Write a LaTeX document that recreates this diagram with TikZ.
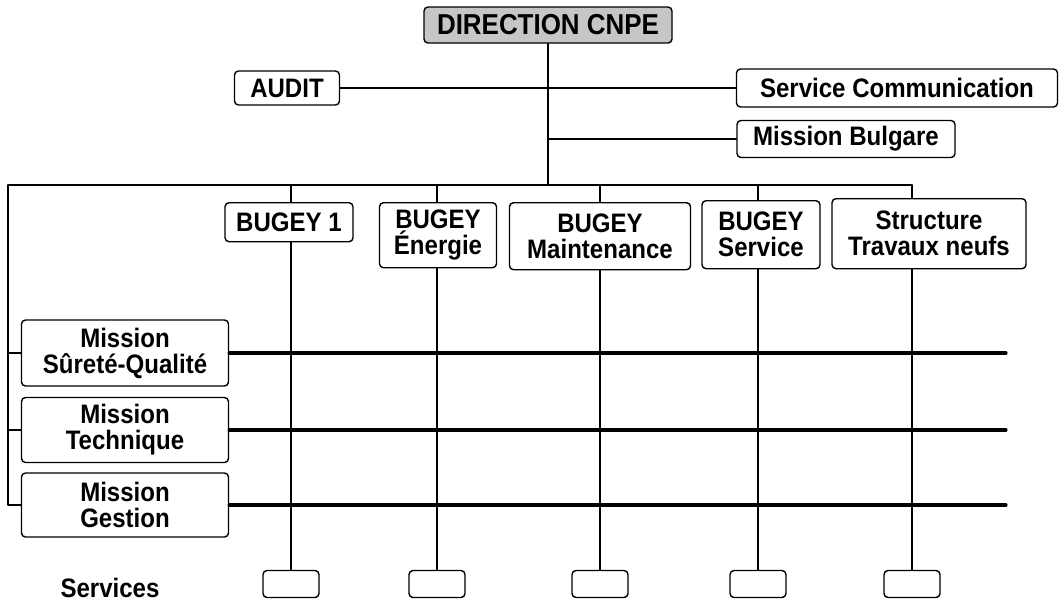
\documentclass[tikz,border=0pt]{standalone}
\usepackage{fontspec}
\setmainfont[FakeStretch=0.9]{Liberation Sans}
\usetikzlibrary{positioning}

\begin{document}
\begin{tikzpicture}[line cap=round,line join=round,x=0.25mm,y=-0.25mm,
		font=\bfseries\fontsize{19}{18.5}\selectfont,
		box/.style={draw,rounded corners=1mm,line width=1pt,fill=white,align=center,inner sep=0pt},
		link/.style={line width=1pt},
		axe/.style={line width=2.2pt}]
		\useasboundingbox (0,0) rectangle (1064,601);
		% direction et rattachements
		\node[box,fill=gray!45,minimum width=62mm,minimum height=9mm,font=\bfseries\fontsize{20.5}{20}\selectfont] (dir) at (548,25) {DIRECTION CNPE};
		\node[box,minimum width=26.25mm,minimum height=8.5mm] (audit) at (287,88) {AUDIT};
		\node[box,minimum width=80.25mm,minimum height=9.5mm] (scom) at (897,88) {Service Communication};
		\node[box,minimum width=54.5mm,minimum height=9.25mm] (mbul) at (846,139) {Mission Bulgare};
		\coordinate (bus) at (548,185);
		\coordinate (busL) at (8,185);
		\coordinate (busR) at (912,185);
		\draw[link] (dir) -- (bus);
		\draw[link] (audit) -- (scom);
		\draw[link] (mbul.west) -- (mbul.west -| bus);
		\draw[link] (busL) -- (busR);
		% unites
		\node[box,anchor=north,minimum width=32mm,minimum height=9.75mm] (b1) at (289,202) {BUGEY 1};
		\node[box,anchor=north,minimum width=29.25mm,minimum height=16.25mm] (ben) at (438,202) {BUGEY\\Énergie};
		\node[box,anchor=north,minimum width=45.25mm,minimum height=16.75mm] (bmt) at (600,202) {BUGEY\\Maintenance};
		\node[box,anchor=north,minimum width=29.5mm,minimum height=17mm] (bsv) at (761,200) {BUGEY\\Service};
		\node[box,anchor=north,minimum width=48.5mm,minimum height=17.5mm] (stn) at (929,198) {Structure\\Travaux neufs};
		% services
		\node (serv) at (110,588) {Services};
		\foreach \i/\x in {1/291,2/437,3/600,4/758,5/912}
			\node[box,minimum width=14mm,minimum height=6.75mm] (s\i) at (\x,584) {};
		\foreach \n/\i in {b1/1,ben/2,bmt/3,bsv/4,stn/5} {
			\draw[link] (busL -| s\i) -- (\n.north -| s\i);
			\draw[link] (\n.south -| s\i) -- (s\i.north);
		}
		% missions
		\node[box,minimum width=51.75mm,minimum height=16.5mm] (msq) at (125,353) {Mission\\Sûreté-Qualité};
		\node[box,minimum width=51.75mm,minimum height=16.25mm] (mt) at (125,430) {Mission\\Technique};
		\node[box,minimum width=51.75mm,minimum height=16mm] (mg) at (125,505) {Mission\\Gestion};
		\draw[link] (busL) |- (mg.west);
		\foreach \m in {msq,mt} \draw[link] (busL |- \m) -- (\m.west);
		\foreach \m in {msq,mt,mg} {
			\coordinate (\m-end) at (1006,0 |- \m);
			\draw[axe] (\m.east) -- (\m-end);
		}
	\end{tikzpicture}
\end{document}
